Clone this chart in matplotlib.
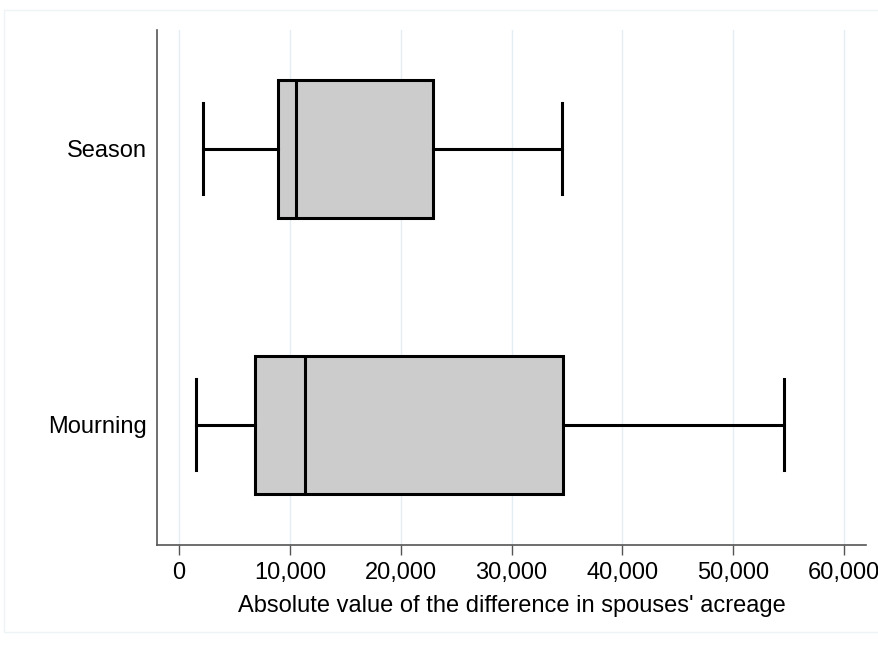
import matplotlib
matplotlib.use('Agg')
import matplotlib.pyplot as plt
import matplotlib.ticker as mticker

# groups, bottom to top
groups = ['Mourning', 'Season']
whislo = [1540, 2170]
q1 = [6870, 8940]
med = [11380, 10570]
q3 = [34690, 22940]
whishi = [54560, 34600]

xticks = [0, 10000, 20000, 30000, 40000, 50000, 60000]

plt.rcParams['font.family'] = ['Liberation Sans', 'DejaVu Sans']

fig = plt.figure(figsize=(8.79, 6.45), dpi=100)
ax = fig.add_axes([157/879, 100/645, (866-157)/879, 515/645])

stats = []
for i in range(len(groups)):
    stats.append(dict(label=groups[i], whislo=whislo[i], q1=q1[i], med=med[i],
                      q3=q3[i], whishi=whishi[i], fliers=[]))

ax.bxp(stats, positions=[1, 2], vert=False, widths=0.5, capwidths=0.33,
       patch_artist=True, showfliers=False,
       boxprops=dict(facecolor='#cccccc', edgecolor='black', linewidth=2.2),
       medianprops=dict(color='black', linewidth=2.2),
       whiskerprops=dict(color='black', linewidth=2.2),
       capprops=dict(color='black', linewidth=2.2))

ax.set_xlim(-2000, 62000)
ax.set_ylim(0.565, 2.431)
ax.set_xticks(xticks)
ax.xaxis.set_major_formatter(mticker.StrMethodFormatter('{x:,.0f}'))
ax.set_yticks([1, 2])
ax.set_yticklabels(groups)
ax.tick_params(axis='y', length=0, labelsize=17, pad=7)
ax.tick_params(axis='x', length=7, width=1, labelsize=17, pad=5, color='#555555')
ax.set_xlabel("Absolute value of the difference in spouses' acreage",
              fontsize=17, labelpad=8)

ax.grid(axis='x', color='#e4edf1', linewidth=1)
ax.set_axisbelow(True)
for s in ['top', 'right']:
    ax.spines[s].set_visible(False)
ax.spines['left'].set_color('#555555')
ax.spines['bottom'].set_color('#555555')
ax.spines['left'].set_linewidth(1.2)
ax.spines['bottom'].set_linewidth(1.2)

# faint outer frame of the graph region
fig.patches.append(plt.Rectangle((4/879, 0.02), 1, 0.965, transform=fig.transFigure,
                                 fill=False, edgecolor='#eef3f5', linewidth=1))

fig.savefig('out.png', dpi=100)
